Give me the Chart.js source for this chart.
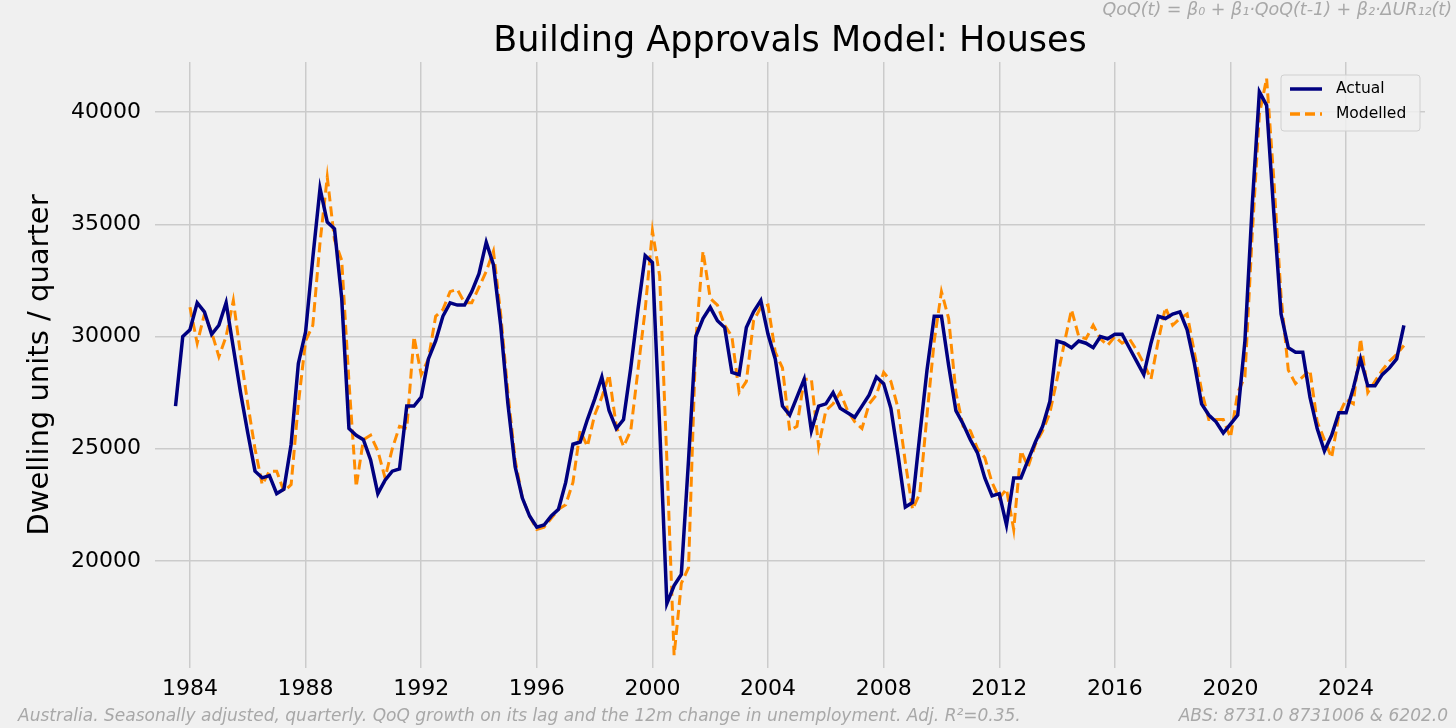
<!DOCTYPE html>
<html><head><meta charset="utf-8">
<script src="https://cdn.jsdelivr.net/npm/chart.js@4.4.1/dist/chart.umd.min.js"></script>
<style>html,body{margin:0;padding:0;background:#f0f0f0}#w{width:1456px;height:728px}</style>
</head><body><div id="w"><canvas id="c"></canvas></div>
<script>
const startYear = 1983.5;
const xTickLabels = [1984,1988,1992,1996,2000,2004,2008,2012,2016,2020,2024];
const yTickLabels = [20000,25000,30000,35000,40000];
const actual = [26900,30000,30300,31500,31100,30100,30500,31500,29500,27500,25700,24000,23700,23800,23000,23200,25200,28800,30200,33500,36600,35100,34800,31700,25900,25600,25400,24500,23000,23600,24000,24100,26900,26900,27300,29000,29800,30900,31500,31400,31400,32000,32800,34200,33200,30500,27000,24200,22800,22000,21500,21600,22000,22300,23500,25200,25300,26300,27200,28200,26700,25900,26300,28600,31200,33600,33300,26000,18100,18900,19400,24500,30000,30800,31300,30700,30400,28400,28300,30400,31100,31600,30100,29000,26900,26500,27300,28100,25800,26900,27000,27500,26800,26600,26400,26900,27400,28200,27900,26800,24700,22400,22600,25600,28500,30900,30900,28700,26700,26100,25400,24800,23700,22900,23000,21600,23700,23700,24500,25300,26000,27100,29800,29700,29500,29800,29700,29500,30000,29900,30100,30100,29500,28900,28300,29700,30900,30800,31000,31100,30300,28800,27000,26500,26200,25700,26100,26500,29800,35800,40900,40300,35500,31000,29500,29300,29300,27300,25900,24900,25600,26600,26600,27700,29000,27800,27800,28300,28600,29000,30500];
const modelled = [null,null,31300,29700,31000,30200,29100,30000,31600,29200,27000,25000,23400,24000,24000,23100,23400,27000,29800,30500,34200,37100,34300,33400,28000,23300,25400,25600,24900,23700,25000,26000,25900,30000,28300,29000,30900,31200,32000,32100,31500,31500,32200,32900,33800,31000,27500,24500,22800,22000,21400,21500,21900,22300,22500,23500,25800,25100,26500,27300,28300,26000,25100,25800,28500,31200,34700,32700,24500,15800,19000,19700,29800,33800,31700,31400,30500,30000,27500,28000,30700,31300,31400,29300,28600,25800,26000,28100,28100,25100,26700,27000,27500,26700,26200,25900,27000,27400,28400,28000,26800,24400,22300,23000,26500,29800,32000,30800,27500,26000,25800,25000,24600,23500,22800,23200,21400,24900,24200,25200,25800,26600,28100,29700,31200,30000,29900,30500,29900,29600,30000,29700,29900,29400,28800,28100,29800,31300,30500,30800,31000,29300,27600,26300,26300,26300,25500,27500,28200,34500,39900,41500,37000,31800,28500,27900,28200,28500,26200,25400,24600,26500,27200,27000,29900,27500,28000,28500,28900,29200,29600];
const pts = a => a.map((v,i)=>({x:startYear+i*0.25,y:v}));
const deco = {id:'deco',
  beforeDraw(c){const x=c.ctx;x.save();x.fillStyle='#f0f0f0';x.fillRect(0,0,c.width,c.height);x.restore();},
  afterDraw(c){const x=c.ctx;x.save();
    x.fillStyle='#000';x.font='35px "DejaVu Sans"';x.textAlign='center';x.textBaseline='middle';
    x.fillText('Building Approvals Model: Houses',790,42);
    x.fillStyle='#a8a8a8';x.font='italic 17.5px "DejaVu Sans"';x.textAlign='right';
    x.fillText('QoQ(t) = β₀ + β₁·QoQ(t-1) + β₂·ΔUR₁₂(t)',1452,10);
    x.font='italic 17px "DejaVu Sans"';
    x.fillText('ABS: 8731.0 8731006 & 6202.0',1448,717);
    x.textAlign='left';
    x.fillText('Australia. Seasonally adjusted, quarterly. QoQ growth on its lag and the 12m change in unemployment. Adj. R²=0.35.',18,717);
    x.save();x.translate(40,365);x.rotate(-Math.PI/2);x.fillStyle='#000';x.font='29px "DejaVu Sans"';x.textAlign='center';
    x.fillText('Dwelling units / quarter',0,0);x.restore();
    const lx=1281,ly=75,w=139,h=56;
    x.fillStyle='rgba(240,240,240,0.85)';x.strokeStyle='#d0d0d0';x.lineWidth=1;
    x.beginPath();x.roundRect(lx,ly,w,h,3);x.fill();x.stroke();
    x.lineWidth=3.5;x.strokeStyle='#000080';x.beginPath();x.moveTo(lx+9,ly+14);x.lineTo(lx+41,ly+14);x.stroke();
    x.strokeStyle='#ff8c00';x.setLineDash([10,5]);x.beginPath();x.moveTo(lx+9,ly+39);x.lineTo(lx+41,ly+39);x.stroke();x.setLineDash([]);
    x.fillStyle='#000';x.font='15.5px "DejaVu Sans"';x.textAlign='left';
    x.fillText('Actual',lx+55,ly+14);x.fillText('Modelled',lx+55,ly+39);
    x.restore();}};
new Chart(document.getElementById('c'),{type:'line',
 data:{datasets:[
  {label:'Actual',data:pts(actual),borderColor:'#000080',borderWidth:3.5,pointRadius:0,tension:0},
  {label:'Modelled',data:pts(modelled),borderColor:'#ff8c00',borderWidth:3,borderDash:[10,5],pointRadius:0,tension:0}]},
 options:{responsive:true,maintainAspectRatio:false,animation:false,devicePixelRatio:1,
  layout:{padding:{top:62,right:31,bottom:28,left:0}},
  plugins:{legend:{display:false},tooltip:{enabled:false}},
  scales:{
   x:{type:'linear',min:1982.79,max:2026.73,border:{display:false},
      grid:{color:'#cbcbcb',lineWidth:1.5,drawTicks:false},
      afterBuildTicks:s=>{s.ticks=xTickLabels.map(v=>({value:v}));},
      afterFit:s=>{s.height=32;},
      ticks:{color:'#000',font:{size:22,family:'"DejaVu Sans"'},padding:8,maxRotation:0,callback:v=>String(v)}},
   y:{min:15230,max:42230,border:{display:false},
      grid:{color:'#cbcbcb',lineWidth:1.5,drawTicks:false},
      afterBuildTicks:s=>{s.ticks=yTickLabels.map(v=>({value:v}));},
      afterFit:s=>{s.width=155;},
      ticks:{color:'#000',font:{size:22,family:'"DejaVu Sans"'},padding:14,callback:v=>String(v)}}}},
 plugins:[deco]});
</script></body></html>
